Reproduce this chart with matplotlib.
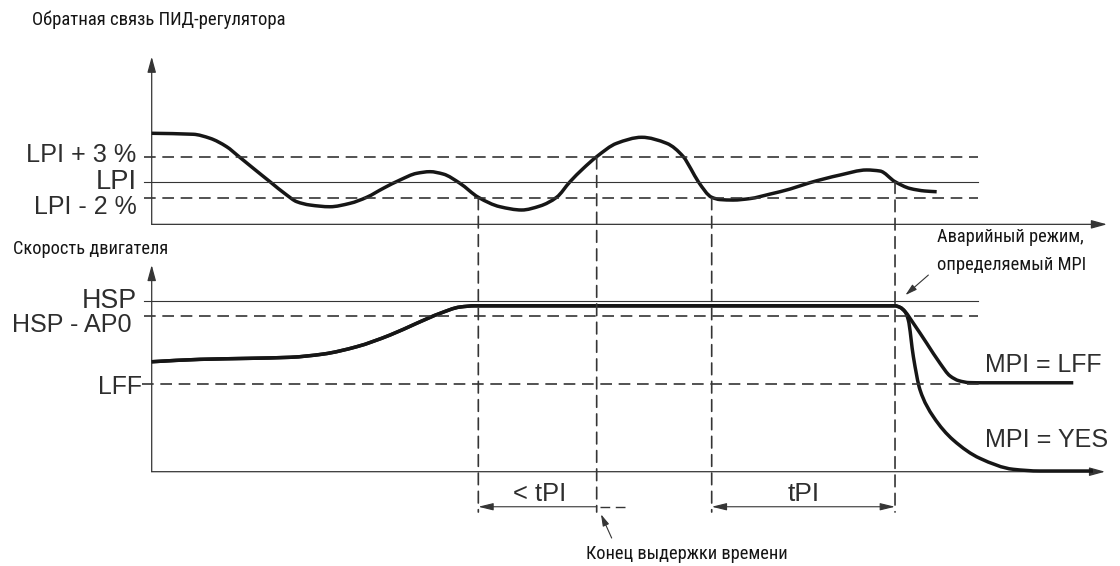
import matplotlib
matplotlib.use('Agg')
import matplotlib.pyplot as plt
from matplotlib.patches import ConnectionPatch, FancyArrowPatch, ArrowStyle, PathPatch
from matplotlib.path import Path
from matplotlib import font_manager as fm

# ---------------- data (time in arbitrary units 0..100) ----------------
# PID feedback, % relative to LPI
t_feedback = [0.0, 4.35, 6.10, 7.85, 9.06, 10.64, 12.38, 14.13, 15.18, 16.57, 18.66,
              20.76, 22.51, 24.24, 25.99, 27.74, 29.13, 30.52, 32.27, 34.19, 36.46,
              38.73, 40.65, 42.39, 43.79, 45.15, 46.58, 48.67, 51.29, 53.91, 55.65,
              56.45, 57.22, 58.62, 59.49, 60.85, 62.63, 64.72, 66.82, 68.90, 72.05,
              74.85, 76.24, 77.81, 79.38, 80.95, 82.17]
feedback = [5.94, 5.82, 5.33, 4.29, 3.15, 1.64, 0.0, -1.63, -2.45, -2.86, -3.07,
            -2.65, -1.91, -0.81, 0.21, 1.03, 1.23, 0.94, -0.20, -1.91, -3.07,
            -3.47, -2.98, -1.91, 0.0, 1.60, 3.07, 4.71, 5.45, 4.71, 3.07,
            1.56, 0.0, -1.91, -2.19, -2.25, -2.07, -1.52, -0.90, -0.12, 0.82,
            1.44, 1.31, 0.0, -0.83, -1.14, -1.23]

# motor speed, % of HSP (common part)
t_speed = [0.0, 5.06, 10.29, 14.48, 17.96, 21.46, 24.94, 27.74, 30.18, 32.27,
           33.84, 36.46, 77.81, 78.34, 78.86]
speed = [64.3, 65.7, 66.3, 66.9, 68.8, 73.1, 79.9, 86.8, 92.6, 96.3,
         97.0, 97.0, 97.0, 96.1, 93.6]
# fallback branch MPI = LFF
t_lff = [78.86, 79.73, 81.13, 82.52, 83.57, 84.50, 85.60, 87.00, 96.47]
speed_lff = [93.6, 86.8, 75.1, 63.4, 56.0, 53.2, 52.1, 52.0, 52.0]
# fallback branch MPI = YES (stop)
t_yes = [78.86, 79.20, 79.73, 80.43, 81.82, 83.91, 86.70, 90.19, 92.98, 98.53]
speed_yes = [93.6, 88.7, 67.3, 47.8, 32.2, 18.5, 7.8, 1.4, 0.4, 0.4]

# reference levels
LPI, LPI_PLUS, LPI_MINUS = 0.0, 3.0, -2.0
HSP, HSP_AP0, LFF = 100.0, 91.0, 51.0
level_labels_top = ['LPI + 3 %', 'LPI', 'LPI - 2 %']
level_labels_bot = ['HSP', 'HSP - AP0', 'LFF']

# events: times and the feedback level where they start
t_events = [34.19, 46.58, 58.62, 77.81]
event_levels = [LPI_MINUS, LPI_PLUS, LPI_MINUS, LPI]

# ---------------- fonts ----------------
names = {f.name for f in fm.fontManager.ttflist}
BIG = 'Liberation Sans' if 'Liberation Sans' in names else 'DejaVu Sans'
SMALL = BIG
for cand in ['Liberation Sans Narrow', 'Roboto Condensed', 'DejaVu Sans Condensed']:
    if cand in names:
        SMALL = cand
        break

W, H = 1120, 566
fig = plt.figure(figsize=(W / 100, H / 100), dpi=100)
fig.patch.set_facecolor('white')


def px_axes(x0, y0, x1, y1):
    return fig.add_axes([x0 / W, 1 - y1 / H, (x1 - x0) / W, (y1 - y0) / H])


ax1 = px_axes(151.7, 0, 1107, 240)
ax1.set_xlim(0, 100)
ax1.set_ylim(-7.15, 22.29)
ax2 = px_axes(151.7, 240, 1107, 566)
ax2.set_xlim(0, 100)
ax2.set_ylim(-55.15, 135.5)
for ax in (ax1, ax2):
    ax.axis('off')

LC = '#353535'
CURVE = '#161616'
DASH = (0, (7, 4))
X_START, X_END = -0.81, 86.5


def smooth_path(xs, ys):
    """Monotone cubic (PCHIP) Bezier path through the read points."""
    n = len(xs)
    h = [xs[i + 1] - xs[i] for i in range(n - 1)]
    d = [(ys[i + 1] - ys[i]) / h[i] for i in range(n - 1)]
    m = [0.0] * n
    m[0], m[-1] = d[0], d[-1]
    for k in range(1, n - 1):
        if d[k - 1] * d[k] <= 0:
            m[k] = 0.0
        else:
            w1 = 2 * h[k] + h[k - 1]
            w2 = h[k] + 2 * h[k - 1]
            m[k] = (w1 + w2) / (w1 / d[k - 1] + w2 / d[k])
    verts = [(xs[0], ys[0])]
    codes = [Path.MOVETO]
    for i in range(n - 1):
        verts += [(xs[i] + h[i] / 3, ys[i] + m[i] * h[i] / 3),
                  (xs[i + 1] - h[i] / 3, ys[i + 1] - m[i + 1] * h[i] / 3),
                  (xs[i + 1], ys[i + 1])]
        codes += [Path.CURVE4] * 3
    return Path(verts, codes)


def draw_curve(ax, xs, ys):
    ax.add_patch(PathPatch(smooth_path(xs, ys), fill=False, lw=2.5, edgecolor=CURVE,
                           joinstyle='round', capstyle='butt', clip_on=False))


# axes with arrows
def axis_arrow(ax, p0, p1):
    ax.add_patch(FancyArrowPatch(p0, p1, arrowstyle=ArrowStyle('-|>', head_length=9.5, head_width=2.6),
                                 mutation_scale=1, lw=0.9, color=LC, shrinkA=0, shrinkB=0,
                                 clip_on=False))

axis_arrow(ax1, (0, -5.23), (0, 15.34))
axis_arrow(ax1, (0, -5.23), (100, -5.23))
axis_arrow(ax2, (0, 0), (0, 120.9))
axis_arrow(ax2, (0, 0), (99.8, 0))

# reference lines
ax1.plot([X_START, X_END], [LPI_PLUS] * 2, ls=DASH, lw=1.2, color=LC, clip_on=False)
ax1.plot([X_START, X_END], [LPI] * 2, ls='-', lw=0.8, color=LC, clip_on=False)
ax1.plot([X_START, X_END], [LPI_MINUS] * 2, ls=DASH, lw=1.2, color=LC, clip_on=False)
ax2.plot([X_START, X_END], [HSP] * 2, ls='-', lw=0.8, color=LC, clip_on=False)
ax2.plot([X_START, X_END], [HSP_AP0] * 2, ls=DASH, lw=1.2, color=LC, clip_on=False)
ax2.plot([X_START - 0.25, X_END + 0.2], [LFF] * 2, ls=DASH, lw=1.2, color=LC, clip_on=False)

# event verticals spanning both panels
S_BOTTOM = -23.6
for te, lv in zip(t_events, event_levels):
    cp = ConnectionPatch(xyA=(te, lv), coordsA=ax1.transData,
                         xyB=(te, S_BOTTOM), coordsB=ax2.transData,
                         linestyle=DASH, lw=1.2, color=LC)
    fig.add_artist(cp)

# curves
draw_curve(ax1, t_feedback, feedback)
draw_curve(ax2, t_speed[:-1] + t_lff, speed[:-1] + speed_lff)
draw_curve(ax2, t_speed[:-1] + t_yes, speed[:-1] + speed_yes)

# dimension arrows
S_DIM = -20.5
ax2.add_patch(FancyArrowPatch((t_events[0], S_DIM), (t_events[1], S_DIM),
                              arrowstyle=ArrowStyle('<|-', head_length=9, head_width=2.2),
                              mutation_scale=1, lw=0.8, color=LC, shrinkA=0, shrinkB=0, clip_on=False))
ax2.plot([46.93, 49.86], [S_DIM] * 2, ls=DASH, lw=1.0, color=LC, clip_on=False)
ax2.add_patch(FancyArrowPatch((t_events[2], S_DIM), (t_events[3], S_DIM),
                              arrowstyle=ArrowStyle('<|-|>', head_length=9, head_width=2.2),
                              mutation_scale=1, lw=0.8, color=LC, shrinkA=0, shrinkB=0, clip_on=False))

# pointer arrows
ax2.add_patch(FancyArrowPatch((48.15, -38.8), (47.03, -24.9),
                              arrowstyle=ArrowStyle('-|>', head_length=7, head_width=2.0),
                              mutation_scale=1, lw=0.8, color=LC, shrinkA=0, shrinkB=0, clip_on=False))
ax2.add_patch(FancyArrowPatch((81.3, 115.0), (78.9, 103.3),
                              arrowstyle=ArrowStyle('-|>', head_length=7, head_width=2.0),
                              mutation_scale=1, lw=0.8, color=LC, shrinkA=0, shrinkB=0, clip_on=False))

TC = '#2e2e2e'
TC_SMALL = '#151515'
texts = []  # (artist, target width px)

def T(ax, x, y, s, fam, size, ha, width, color=TC):
    a = ax.text(x, y, s, fontsize=size, family=fam, ha=ha, va='baseline', color=color, clip_on=False)
    texts.append((a, width))

LX = -1.57
T(ax1, LX, 2.42, level_labels_top[0], BIG, 18, 'right', 110)
T(ax1, LX, -0.90, level_labels_top[1], BIG, 18, 'right', 41)
T(ax1, LX, -3.96, level_labels_top[2], BIG, 18, 'right', 103)
T(ax2, LX, 96.0, level_labels_bot[0], BIG, 18, 'right', 55)
T(ax2, -2.1, 81.5, level_labels_bot[1], BIG, 18, 'right', 120)
T(ax2, -1.05, 45.4, level_labels_bot[2], BIG, 18, 'right', 44)
T(ax2, 87.23, 58.3, 'MPI = LFF', BIG, 18, 'left', 117)
T(ax2, 87.23, 14.4, 'MPI = YES', BIG, 18, 'left', 123)
T(ax2, 40.6, -17.0, '< tPI', BIG, 18, 'center', 53)
T(ax2, 68.2, -17.0, 'tPI', BIG, 18, 'center', 32)

T(ax1, -12.56, 19.25, 'Обратная связь ПИД-регулятора', SMALL, 13, 'left', 253, TC_SMALL)
T(ax2, -14.49, 127.6, 'Скорость двигателя', SMALL, 13, 'left', 155, TC_SMALL)
T(ax2, 82.17, 134.6, 'Аварийный режим,', SMALL, 13, 'left', 146, TC_SMALL)
T(ax2, 82.17, 118.2, 'определяемый MPI', SMALL, 13, 'left', 149, TC_SMALL)
T(ax2, 56.0, -51.3, 'Конец выдержки времени', SMALL, 13, 'center', 200, TC_SMALL)

# fit text widths to the reference
fig.canvas.draw()
r = fig.canvas.get_renderer()
for a, w in texts:
    bw = a.get_window_extent(r).width
    if bw > 0:
        a.set_fontsize(a.get_fontsize() * w / bw)

fig.savefig('out.png', dpi=100, facecolor='white')
